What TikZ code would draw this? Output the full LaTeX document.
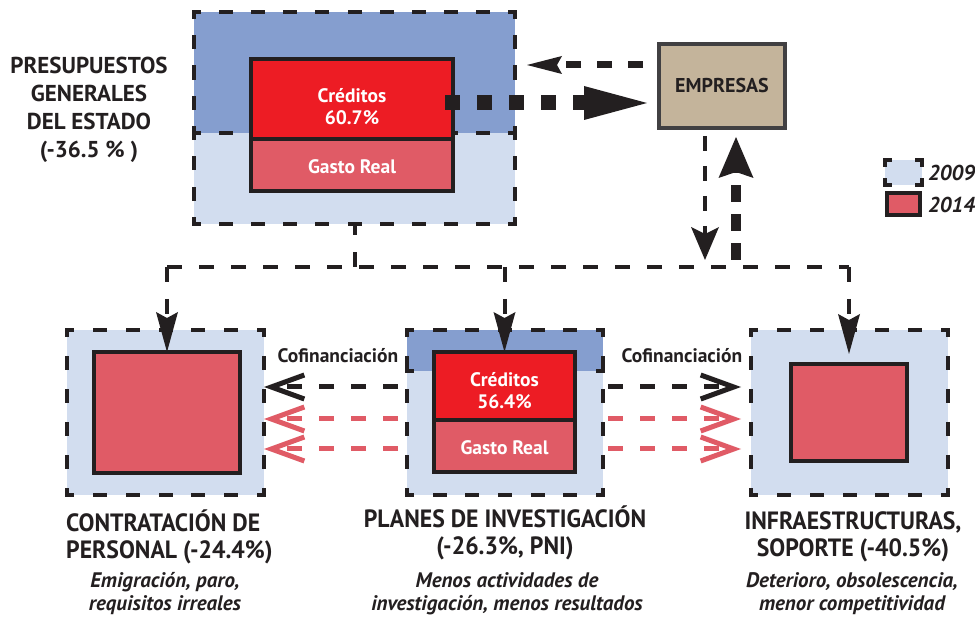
\documentclass[tikz,border=0pt]{standalone}
\usepackage{fontspec}
\setmainfont{PT Sans}
\newfontfamily\condfont[FakeStretch=0.95]{PT Sans}
\usetikzlibrary{arrows.meta,calc}
\definecolor{ln}{HTML}{231F20}
\definecolor{lb}{HTML}{D2DDEF}
\definecolor{db}{HTML}{859ECF}
\definecolor{rd}{HTML}{ED1C24}
\definecolor{pk}{HTML}{E05B66}
\definecolor{tanc}{HTML}{C4B49B}
\definecolor{eg}{HTML}{414042}
\newcommand\DSide[3]{%
  \pgfmathsetmacro\DSn{max(1,round((#3)/32))}%
  \pgfmathsetmacro\DSg{(#3)/\DSn-10}%
  \draw[dl, dash pattern=on 10pt off \DSg pt, dash phase=5pt] #1 -- #2;%
}
\newcommand\DBox[4]{%
  \DSide{(#1,#2)}{(#3,#2)}{#3-#1}%
  \DSide{(#3,#2)}{(#3,#4)}{#4-#2}%
  \DSide{(#3,#4)}{(#1,#4)}{#3-#1}%
  \DSide{(#1,#4)}{(#1,#2)}{#4-#2}%
}
\tikzset{
  rb/.style={inner sep=0pt, outer sep=0pt, anchor=north west},
  sol/.style={draw=ln, line width=4pt},
  dl/.style={draw=ln, line width=4pt, line cap=rect},
  cdash/.style={draw=ln, line width=4pt, dash pattern=on 15pt off 17pt},
  wt/.style={text=white, font=\fontsize{19.5}{22}\selectfont\bfseries, align=center, inner sep=0pt},
  ttl/.style={text=ln, font=\fontsize{23}{28}\selectfont\bfseries, align=center, inner sep=0pt},
  hd/.style={text=ln, font=\condfont\fontsize{25}{27}\selectfont\bfseries, align=center, inner sep=0pt},
  itx/.style={text=ln, font=\fontsize{21}{23}\selectfont\bfseries\itshape, align=center, inner sep=0pt},
  cof/.style={text=ln, font=\fontsize{19.5}{22}\selectfont\bfseries, inner sep=0pt},
  lg/.style={text=ln, font=\fontsize{21.5}{22}\selectfont\bfseries\itshape, inner sep=0pt, anchor=west},
  coarr/.style={line width=5pt, dash pattern=on 15pt off 17pt, -{Straight Barb[length=33pt,width=24pt,sharp]}},
  bigtip/.style={-{Stealth[length=40pt,width=22pt,inset=6pt,line width=0pt]}}
}
\begin{document}
\begin{tikzpicture}[x=1pt,y=-1pt]
\useasboundingbox[fill=white] (0,0) rectangle (975,617);

% ---- top box: Presupuestos Generales del Estado
\node[rb, fill=lb, minimum width=321pt, minimum height=212pt] (pge) at (194,12) {};
\node[rb, fill=db, minimum width=321pt, minimum height=121pt] (pgedk) at (194,12) {};
\DBox{194}{12}{515}{224}
\DBox{194}{12}{515}{133}
\node[rb, fill=rd, sol, minimum width=202pt, minimum height=80pt] (cred1) at (251,59) {};
\node[rb, fill=pk, sol, minimum width=202pt, minimum height=52pt] (gas1) at (251,139) {};
\node[wt] (tc1) at ([yshift=-8pt]cred1.center) {Créditos\\60.7\%};
\node[wt] (tg1) at ([yshift=-2pt]gas1.center) {Gasto Real};
\node[ttl] (tpge) at (89,110) {PRESUPUESTOS\\GENERALES\\DEL ESTADO\\(-36.5 \% )};

% ---- Empresas
\node[rb, fill=tanc, draw=eg, line width=4pt, minimum width=126pt, minimum height=84pt] (emp) at (659,44) {};
\node[text=ln, font=\fontsize{20}{22}\selectfont\bfseries, inner sep=0pt] (temp) at (emp.center) {EMPRESAS};

% ---- legend
\node[rb, fill=lb, minimum width=37pt, minimum height=25pt] (l09) at (885,160) {};
\DBox{885}{160}{922}{185}
\node[rb, fill=pk, sol, minimum width=33pt, minimum height=22pt] (l14) at (887,193) {};
\node[lg] (t09) at (928,173) {2009};
\node[lg] (t14) at (928,205) {2014};

% ---- bottom left box
\node[rb, fill=lb, minimum width=197pt, minimum height=165pt] (lout) at (67,330) {};
\DBox{67}{330}{264}{495}
\node[rb, fill=pk, sol, minimum width=146pt, minimum height=121pt] (lin) at (94,352) {};

% ---- bottom middle box
\node[rb, fill=lb, minimum width=196pt, minimum height=165pt] (pin) at (407,330) {};
\node[rb, fill=db, minimum width=196pt, minimum height=41pt] (pindk) at (407,330) {};
\DBox{407}{330}{603}{495}
\DBox{407}{330}{603}{371}
\node[rb, fill=rd, sol, minimum width=141pt, minimum height=68pt] (pcred) at (434,352) {};
\node[rb, fill=pk, sol, minimum width=141pt, minimum height=52pt] (pgas) at (434,420) {};
\node[wt] (tc2) at ([yshift=-5pt]pcred.center) {Créditos\\56.4\%};
\node[wt] (tg2) at ([yshift=-2pt]pgas.center) {Gasto Real};

% ---- bottom right box
\node[rb, fill=lb, minimum width=197pt, minimum height=165pt] (rout) at (751,330) {};
\DBox{751}{330}{948}{495}
\node[rb, fill=pk, sol, minimum width=116pt, minimum height=97pt] (rin) at (791,364) {};

% ---- distribution connectors
\coordinate (hy) at (0,267);
\draw[cdash] (lin.north |- hy) -- (rin.north |- hy);
\draw[cdash] (pge.south |- hy) -- (pge.south);
\draw[cdash, bigtip] (lin.north |- hy) -- (lin.north);
\draw[cdash, bigtip] (pcred.north |- hy) -- (pcred.north);
\coordinate (rtip) at ([yshift=10pt]rin.north);
\draw[cdash, bigtip] (rin.north |- hy) -- (rtip);

% ---- Empresas connectors
\coordinate (e1) at ([xshift=-16pt,yshift=21pt]emp.west);
\draw[ln, line width=7pt, dash pattern=on 15pt off 16pt, shorten >=12pt,
  -{Stealth[length=35pt,width=18pt,inset=5pt,line width=0pt]}] (e1) -- (e1 -| pge.east);
\coordinate (c1) at ([xshift=-8pt,yshift=-4pt]cred1.east);
\draw[ln, line width=15pt, dash pattern=on 15pt off 17pt, shorten >=12pt,
  -{Triangle[length=63pt,width=34pt,line width=0pt]}] (c1) -- (c1 -| emp.west);
\coordinate (e2) at ([xshift=-17pt,yshift=-8pt]emp.south);
\draw[ln, line width=4pt, dash pattern=on 15pt off 15pt, shorten >=7pt,
  -{Stealth[length=33pt,width=28pt,inset=7pt,line width=0pt]}] (e2) -- (e2 |- hy);
\coordinate (e3) at ([xshift=14pt,yshift=-9pt]emp.south);
\draw[ln, line width=10pt, dash pattern=on 17pt off 12pt, shorten <=7pt,
  -{Stealth[length=41pt,width=35pt,inset=6pt,line width=0pt]}] (e3 |- hy) -- (e3);

% ---- cofinanciacion connectors
\coordinate (r1) at (0,387);
\coordinate (r2) at (0,419);
\coordinate (r3) at (0,449);
\draw[coarr, ln, shorten <=9pt] (pin.west |- r1) -- (lout.east |- r1);
\draw[coarr, pk, shorten <=9pt] (pin.west |- r2) -- (lout.east |- r2);
\draw[coarr, pk, shorten <=9pt] (pin.west |- r3) -- (lout.east |- r3);
\draw[coarr, ln, shorten <=5pt, shorten >=10pt] (pin.east |- r1) -- (rout.west |- r1);
\draw[coarr, pk, shorten <=5pt, shorten >=10pt] (pin.east |- r2) -- (rout.west |- r2);
\draw[coarr, pk, shorten <=5pt, shorten >=10pt] (pin.east |- r3) -- (rout.west |- r3);
\node[cof] (cofl) at (338,356) {Cofinanciación};
\node[cof] (cofr) at (682,356) {Cofinanciación};

% ---- bottom captions
\node[hd, align=left, anchor=west] (t1) at (66,537) {CONTRATACIÓN DE\\PERSONAL (-24.4\%)};
\node[hd] (t2) at (505,533) {PLANES DE INVESTIGACIÓN\\(-26.3\%, PNI)};
\node[hd] (t3) at (853,537) {INFRAESTRUCTURAS,\\SOPORTE (-40.5\%)};
\node[itx] (s1) at (165,594) {Emigración, paro,\\requisitos irreales};
\node[itx] (s2) at (507,594) {Menos actividades de\\investigación, menos resultados};
\node[itx] (s3) at (852,594) {Deterioro, obsolescencia,\\menor competitividad};
\end{tikzpicture}
\end{document}
